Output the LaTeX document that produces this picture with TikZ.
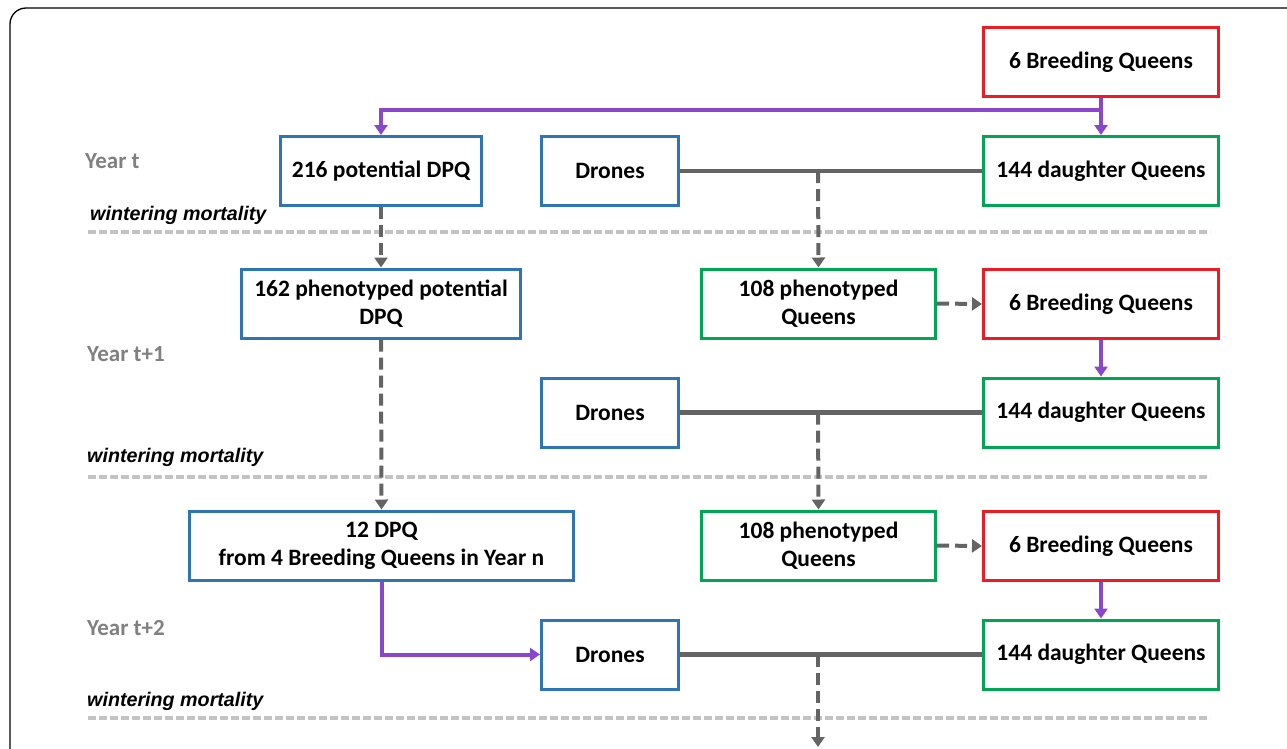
\documentclass[tikz,border=0pt]{standalone}
\usepackage{fontspec}
\setmainfont{Carlito}
\newfontfamily\arialf{Liberation Sans}
\usetikzlibrary{arrows.meta}
\definecolor{cblue}{RGB}{46,117,182}
\definecolor{cred}{RGB}{237,28,36}
\definecolor{cgreen}{RGB}{0,166,81}
\definecolor{cpurple}{RGB}{140,70,204}
\definecolor{cgray}{RGB}{100,100,100}
\definecolor{clight}{RGB}{195,195,195}
\definecolor{ctext}{RGB}{128,128,128}
\begin{document}
\begin{tikzpicture}[x=1pt,y=-1pt,
  box/.style={draw, line width=3pt, minimum width=#1, minimum height=69pt, inner sep=0pt,
    align=center, font=\fontsize{23.5}{28}\selectfont\bfseries, fill=white},
  bluebox/.style={box=#1, draw=cblue},
  redbox/.style={box=#1, draw=cred},
  greenbox/.style={box=#1, draw=cgreen},
  parrow/.style={draw=cpurple, line width=4pt, -{Triangle[width=13pt,length=10pt]}},
  pline/.style={draw=cpurple, line width=4pt},
  gline/.style={draw=cgray, line width=4.5pt},
  garrow/.style={draw=cgray, line width=4pt, dash pattern=on 12pt off 6pt, -{Triangle[width=13pt,length=10pt]}},
  sep/.style={draw=clight, line width=4pt, dash pattern=on 8pt off 3pt},
  yearlbl/.style={anchor=west, inner sep=0pt, text=ctext, font=\fontsize{23}{27}\selectfont\bfseries},
  mortlbl/.style={anchor=west, inner sep=0pt, font=\arialf\fontsize{19.7}{23}\selectfont\bfseries\itshape}
]
\useasboundingbox (0,0) rectangle (1287,748);
\begin{scope}
\clip (0,0) rectangle (1287,748);
\draw[line width=1.3pt, rounded corners=16pt] (10,8) rectangle (1320,790);
\end{scope}

% separators
\draw[sep] (88,232) -- (1210,232);
\draw[sep] (88,477) -- (1210,477);
\draw[sep] (88,718) -- (1210,718);

% labels
\node[yearlbl] (y0) at (85,161) {Year t};
\node[yearlbl] (y1) at (87,354) {Year t+1};
\node[yearlbl] (y2) at (87,628) {Year t+2};
\node[mortlbl] (m0) at (90,215) {wintering mortality};
\node[mortlbl] (m1) at (87,457) {wintering mortality};
\node[mortlbl] (m2) at (87,701) {wintering mortality};

\coordinate (j1) at (1101,110);
\coordinate (k1) at (818,170);
\coordinate (k2) at (818,411.5);
\coordinate (k3) at (818,653.5);
\coordinate (bot) at (818,747);

% boxes
\node[redbox=235] (bq1) at (1101,62) {6 Breeding Queens};
\node[greenbox=235] (dq1) at (1101,171) {144 daughter Queens};
\node[bluebox=201] (dpq1) at (381,171) {216 potential DPQ};
\node[bluebox=137] (dr1) at (610,171) {Drones};

\node[bluebox=279] (ph1) at (381,303.5) {162 phenotyped potential\\DPQ};
\node[greenbox=234] (pq1) at (818.5,303.5) {108 phenotyped\\Queens};
\node[redbox=235] (bq2) at (1101,304) {6 Breeding Queens};
\node[greenbox=235] (dq2) at (1101,412.5) {144 daughter Queens};
\node[bluebox=137] (dr2) at (610,412.5) {Drones};

\node[bluebox=384] (dpq3) at (381.5,545.5) {12 DPQ\\from 4 Breeding Queens in Year n};
\node[greenbox=234] (pq2) at (818.5,545.5) {108 phenotyped\\Queens};
\node[redbox=235] (bq3) at (1101,546) {6 Breeding Queens};
\node[greenbox=235] (dq3) at (1101,654.5) {144 daughter Queens};
\node[bluebox=137] (dr3) at (610,654.5) {Drones};

% purple
\draw[pline] (bq1.south) -- (j1);
\draw[parrow] (j1) -| (dpq1.north);
\draw[parrow] (j1) -- (dq1.north);
\draw[parrow] (bq2.south) -- (dq2.north);
\draw[parrow] (bq3.south) -- (dq3.north);
\draw[parrow] (dpq3.south) |- (dr3.west);

% gray solid
\draw[gline] (dr1.east) -- (dq1.west);
\draw[gline] (dr2.east) -- (dq2.west);
\draw[gline] (dr3.east) -- (dq3.west);

% gray dashed
\draw[garrow] (k1 |- dr1.east) -- (pq1.north);
\draw[garrow] (k2 |- dr2.east) -- (pq2.north);
\draw[garrow] (k3 |- dr3.east) -- (bot);
\draw[garrow] (dpq1.south) -- (ph1.north);
\draw[garrow] (ph1.south) -- (dpq3.north);
\draw[garrow] (pq1.east) -- (bq2.west);
\draw[garrow] (pq2.east) -- (bq3.west);
\end{tikzpicture}
\end{document}
